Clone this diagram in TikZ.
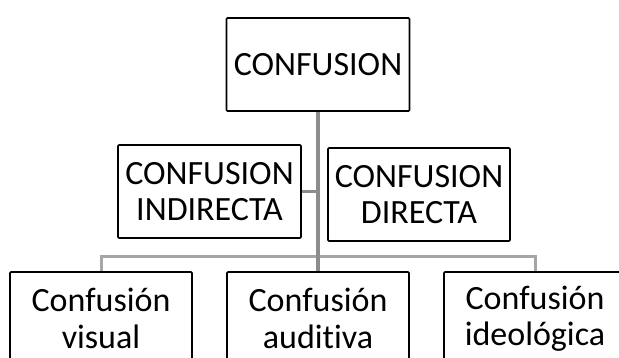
\documentclass[tikz,border=0pt]{standalone}
\usepackage{fontspec}
\setmainfont{Carlito}[Ligatures={NoCommon,TeX}]
\definecolor{trunkgray}{HTML}{8C8C8C}
\definecolor{busgray}{HTML}{A6A6A6}
\begin{document}
\begin{tikzpicture}[x=1pt,y=1pt,
  box/.style={draw=black, line width=1.6pt, fill=white, rounded corners=1pt,
    minimum width=183pt, minimum height=93pt, inner sep=0pt,
    align=center, font=\fontsize{34}{36.5}\selectfont},
  trunk/.style={draw=trunkgray, line width=4pt},
  bus/.style={draw=busgray, line width=3pt}]
\clip (0,0) rectangle (619,-358);
\fill[white] (0,0) rectangle (619,-358);
% nodes
\node[box] (top) at (318,-64.5) {CONFUSION};
\node[box] (ind) at (209.5,-191.5) {CONFUSION\\INDIRECTA};
\node[box, minimum width=182pt] (dir) at (419,-194.5) {CONFUSION\\DIRECTA};
\node[box, minimum width=182pt] (b1) at (101,-318.5) {Confusión\\visual};
\node[box, minimum width=182pt] (b2) at (318,-318.5) {Confusión\\auditiva};
\node[box, minimum width=182pt] (b3) at (535,-318.5) {Confusión\\ideológica};
% connectors
\draw[bus] (b1.north) -- ++(0,15) -| (b3.north);
\draw[trunk] (top.south) -- (b2.north);
\draw[trunk, line width=3pt] (ind.east) -- (ind.east -| top.south);
\end{tikzpicture}
\end{document}
